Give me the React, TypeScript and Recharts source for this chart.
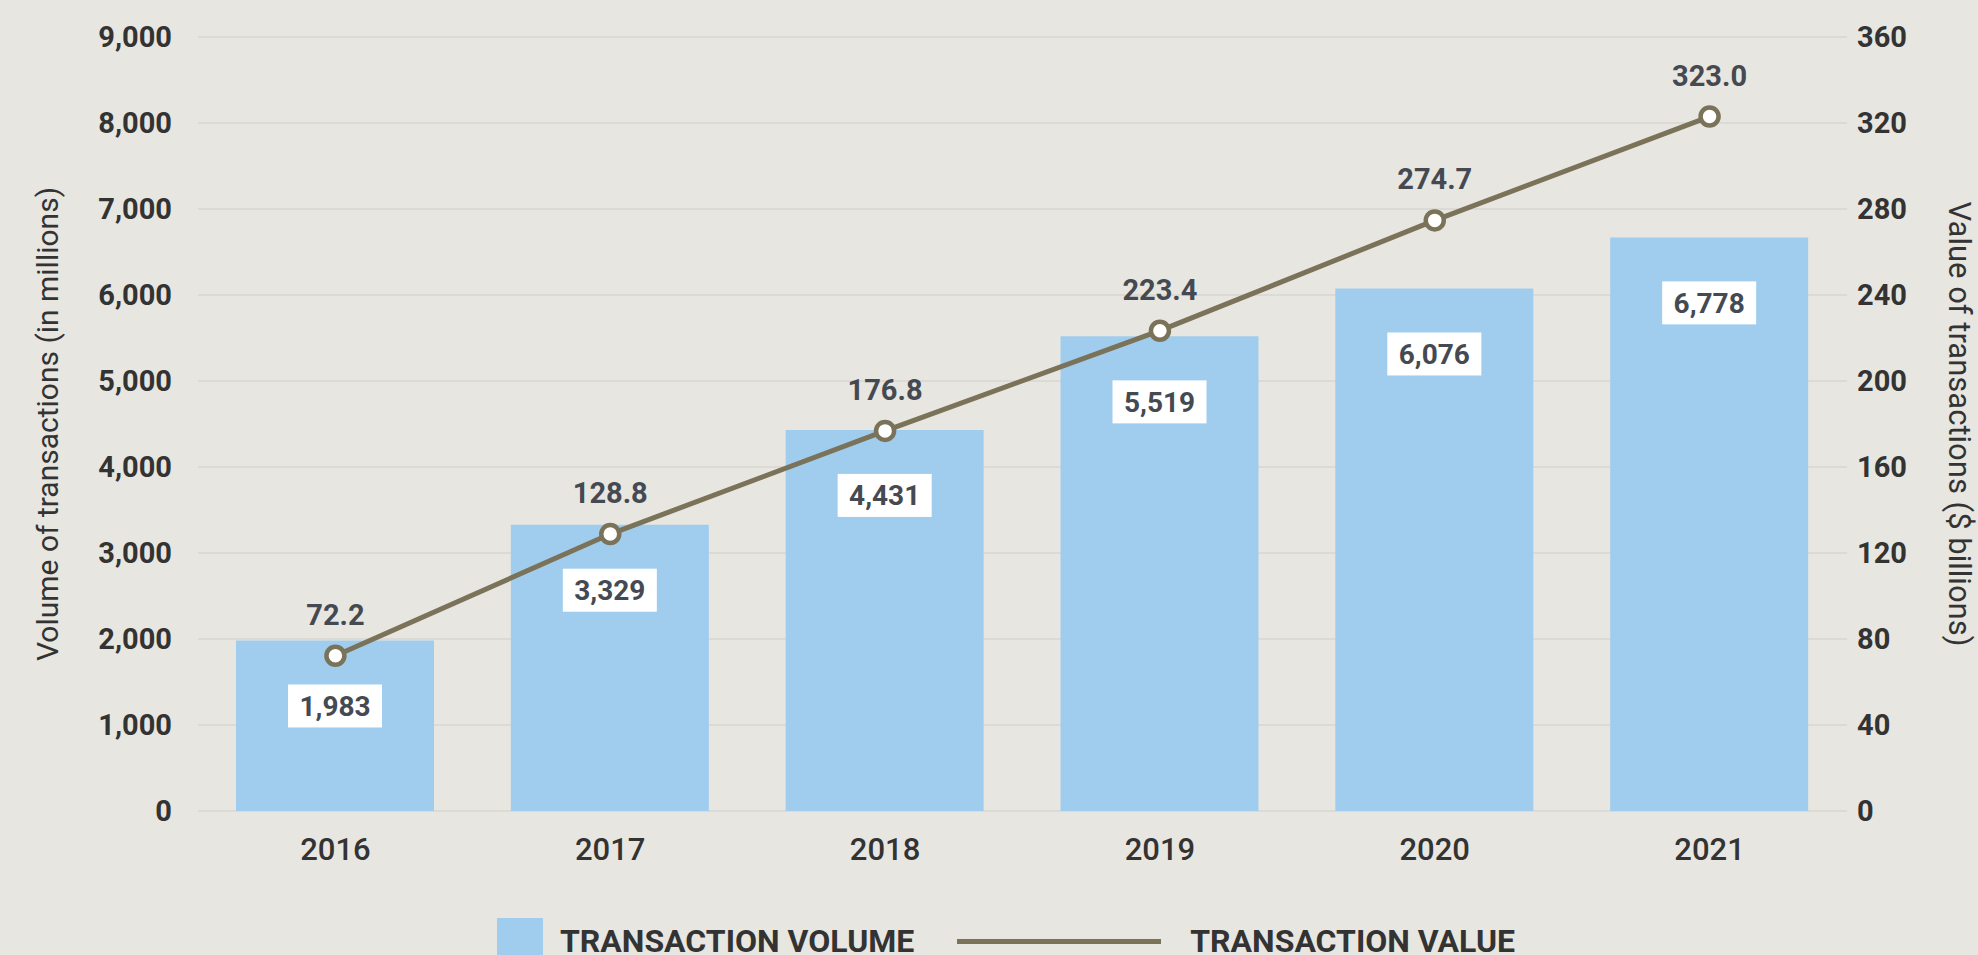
import {
  ComposedChart,
  Bar,
  Line,
  XAxis,
  YAxis,
  CartesianGrid,
  Legend,
  LabelList,
} from "recharts";

const FONT = "Roboto, sans-serif";
const BG = "#e8e6e0";
const BAR_COLOR = "#a0cdee";
const LINE_COLOR = "#7a7359";
const TEXT = "#333333";
const LABEL_TEXT = "#454a52";

const YEARS = ["2016", "2017", "2018", "2019", "2020", "2021"];
// bar heights as drawn in the picture (the 2021 bar sits a bit below its label)
const VOLUME = [1983, 3329, 4431, 5519, 6076, 6670];
const VOLUME_LABELS = ["1,983", "3,329", "4,431", "5,519", "6,076", "6,778"];
const VALUE = [72.2, 128.8, 176.8, 223.4, 274.7, 323.0];

const VOLUME_TICKS = [0, 1000, 2000, 3000, 4000, 5000, 6000, 7000, 8000, 9000];
const VALUE_TICKS = [0, 40, 80, 120, 160, 200, 240, 280, 320, 360];

const data = YEARS.map((year, i) => ({
  year,
  volume: VOLUME[i],
  volumeLabel: VOLUME_LABELS[i],
  value: VALUE[i],
}));

function BoxLabel(props: any) {
  const { x, y, width, value } = props;
  const cx = x + width / 2;
  const top = y + 44;
  return (
    <g>
      <rect x={cx - 47} y={top} width={94} height={43} fill="#ffffff" />
      <text
        x={cx}
        y={top + 21.5}
        dy="0.355em"
        textAnchor="middle"
        fontFamily={FONT}
        fontWeight={700}
        fontSize={28}
        fill={LABEL_TEXT}
      >
        {value}
      </text>
    </g>
  );
}

function PointLabel(props: any) {
  const { x, y, value } = props;
  return (
    <text
      x={x}
      y={y - 31}
      textAnchor="middle"
      fontFamily={FONT}
      fontWeight={700}
      fontSize={29}
      fill={LABEL_TEXT}
    >
      {Number(value).toFixed(1)}
    </text>
  );
}

function LegendContent() {
  return (
    <div
      style={{
        display: "flex",
        alignItems: "center",
        height: 46,
        paddingLeft: 497,
        fontFamily: FONT,
        fontWeight: 700,
        fontSize: 32,
        color: TEXT,
        whiteSpace: "nowrap",
      }}
    >
      <span style={{ width: 46, height: 46, background: BAR_COLOR }} />
      <span style={{ marginLeft: 17 }}>TRANSACTION VOLUME</span>
      <span
        style={{ width: 204, height: 5, background: LINE_COLOR, marginLeft: 43 }}
      />
      <span style={{ marginLeft: 29 }}>TRANSACTION VALUE</span>
    </div>
  );
}

const tickStyle = { fontSize: 29, fontWeight: 700, fill: TEXT, fontFamily: FONT };

export default function App() {
  return (
    <div
      style={{
        position: "fixed",
        left: 0,
        top: 0,
        width: 1978,
        height: 955,
        overflow: "hidden",
        background: BG,
      }}
    >
      <ComposedChart
        width={1978}
        height={955}
        data={data}
        margin={{ top: 37, right: 0, bottom: 38, left: 0 }}
      >
        <CartesianGrid
          yAxisId="left"
          vertical={false}
          stroke="#dcdad4"
          strokeWidth={2}
        />
        <XAxis
          dataKey="year"
          height={60}
          axisLine={false}
          tickLine={false}
          tickSize={0}
          tickMargin={27}
          tick={{ fontSize: 31, fontWeight: 500, fill: TEXT, fontFamily: FONT }}
        />
        <YAxis
          yAxisId="left"
          orientation="left"
          width={198}
          domain={[0, 9000]}
          ticks={VOLUME_TICKS}
          tickFormatter={(v: number) => v.toLocaleString("en-US")}
          axisLine={false}
          tickLine={false}
          tickSize={0}
          tickMargin={26}
          tick={tickStyle}
          label={{
            value: "Volume of transactions (in millions)",
            angle: -90,
            position: "insideLeft",
            offset: 47,
            style: { textAnchor: "middle", fontSize: 30, fill: TEXT, fontFamily: FONT },
          }}
        />
        <YAxis
          yAxisId="right"
          orientation="right"
          width={131}
          domain={[0, 360]}
          ticks={VALUE_TICKS}
          axisLine={false}
          tickLine={false}
          tickSize={0}
          tickMargin={10}
          tick={tickStyle}
          label={{
            value: "Value of transactions ($ billions)",
            angle: 90,
            position: "insideRight",
            offset: 18,
            style: { textAnchor: "middle", fontSize: 31, fill: TEXT, fontFamily: FONT },
          }}
        />
        <Legend
          verticalAlign="bottom"
          content={LegendContent}
          wrapperStyle={{ left: 0, top: 918, bottom: "auto", width: 1978, height: 46 }}
        />
        <Bar
          yAxisId="left"
          dataKey="volume"
          fill={BAR_COLOR}
          barSize={198}
          isAnimationActive={false}
        >
          <LabelList dataKey="volumeLabel" content={BoxLabel} />
        </Bar>
        <Line
          yAxisId="right"
          type="linear"
          dataKey="value"
          stroke={LINE_COLOR}
          strokeWidth={5}
          dot={{ r: 9, fill: "#ffffff", stroke: LINE_COLOR, strokeWidth: 4.5 }}
          activeDot={false}
          isAnimationActive={false}
        >
          <LabelList dataKey="value" content={PointLabel} />
        </Line>
      </ComposedChart>
    </div>
  );
}
